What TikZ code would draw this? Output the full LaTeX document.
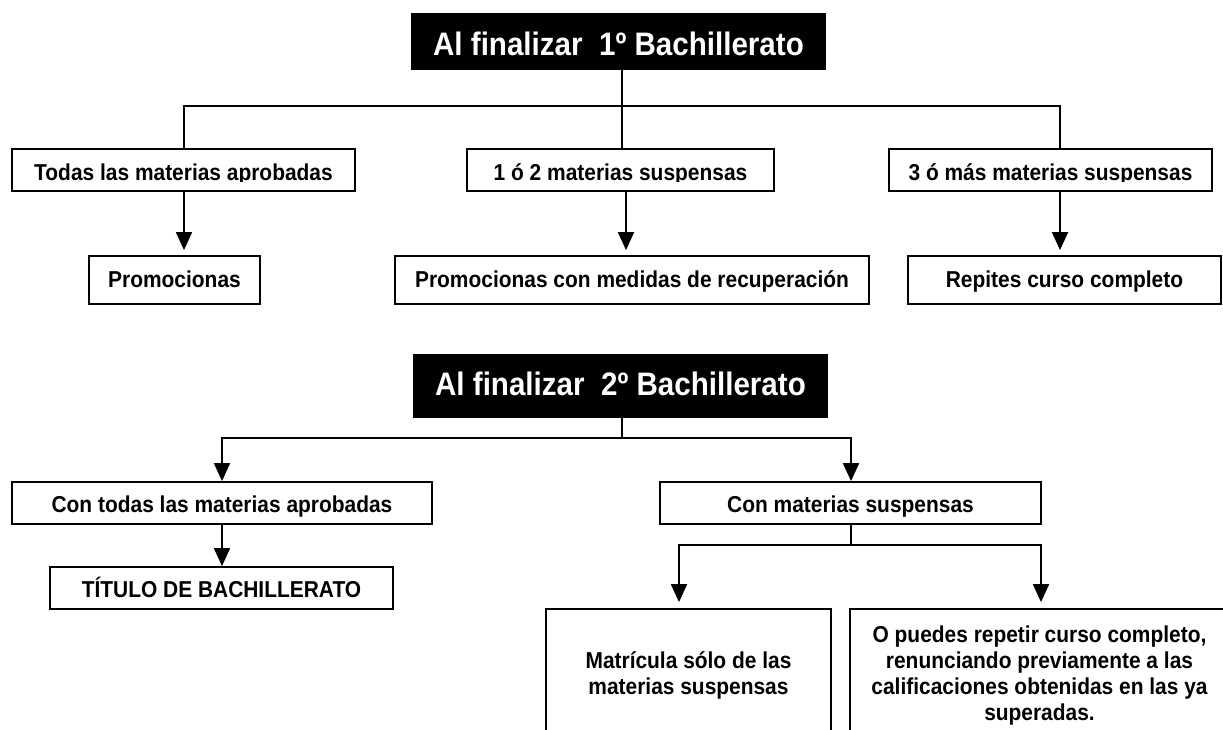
\documentclass[tikz,border=0pt]{standalone}
\usepackage{fontspec}
\setmainfont{Liberation Sans}[FakeStretch=0.91]
\usetikzlibrary{arrows.meta}
\begin{document}
\begin{tikzpicture}[x=1pt,y=-1pt,
  box/.style={draw=black, line width=1.8pt, inner sep=0pt, fill=white},
  ttl/.style={fill=black, inner sep=0pt},
  lab/.style={font=\fontsize{23}{26}\selectfont\bfseries, inner sep=0pt, anchor=base, text=black},
  tlab/.style={font=\fontsize{32.5}{36}\selectfont\bfseries, inner sep=0pt, anchor=base, text=white},
  conn/.style={line width=1.8pt},
  arr/.style={line width=1.8pt, -{Triangle[width=16pt,length=18pt]}},
]
\useasboundingbox[fill=white] (0,0) rectangle (1223,729);

% ---------- 1º Bachillerato ----------
\node[ttl, minimum width=415pt, minimum height=57pt] (t1) at (618.5,41.5) {};
\node[tlab] (t1l) at (618.5,55) {Al finalizar\ \ 1º Bachillerato};

\node[box, minimum width=343pt, minimum height=42pt] (A) at (183.5,170) {};
\node[box, minimum width=307pt, minimum height=42pt] (B) at (620.5,170) {};
\node[box, minimum width=323pt, minimum height=42pt] (C) at (1050.5,170) {};
\begin{scope}
  \clip (0,140) rectangle (1223,181);
  \node[lab] (Al) at (A.center |- 0,180) {Todas las materias aprobadas};
  \node[lab] (Bl) at (B.center |- 0,180) {1 ó 2 materias suspensas};
  \node[lab] (Cl) at (C.center |- 0,180) {3 ó más materias suspensas};
\end{scope}

\node[box, minimum width=171pt, minimum height=48pt] (A2) at (174.5,280) {};
\node[box, minimum width=474pt, minimum height=48pt] (B2) at (632,280) {};
\node[box, minimum width=313pt, minimum height=48pt] (C2) at (1064.5,280) {};
\node[lab] (A2l) at (A2.center |- 0,287) {Promocionas};
\node[lab] (B2l) at (B2.center |- 0,287) {Promocionas con medidas de recuperación};
\node[lab] (C2l) at (C2.center |- 0,287) {Repites curso completo};

\coordinate (hl) at (184,106);
\coordinate (hm) at (622,106);
\coordinate (hr) at (1060,106);
\coordinate (xb) at (626,0);
\draw[conn] (t1.south -| hm) -- (B.north -| hm);
\draw[conn] (A.north -| hl) -- (hl) -- (hr) -- (C.north -| hr);
\draw[arr, shorten >=5pt] (A.south -| hl) -- (A2.north -| hl);
\draw[arr, shorten >=5pt] (B.south -| xb) -- (B2.north -| xb);
\draw[arr, shorten >=5pt] (C.south -| hr) -- (C2.north -| hr);

% ---------- 2º Bachillerato ----------
\node[ttl, minimum width=415pt, minimum height=64pt] (t2) at (620.5,386) {};
\node[tlab] (t2l) at (620.5,395) {Al finalizar\ \ 2º Bachillerato};

\node[box, minimum width=420pt, minimum height=42pt] (D) at (222,503) {};
\node[box, minimum width=343pt, minimum height=42pt] (E) at (221.5,588) {};
\node[box, minimum width=381pt, minimum height=42pt] (F) at (850.5,503) {};
\node[box, minimum width=285pt, minimum height=128pt] (G) at (688.5,673) {};
\node[box, minimum width=379pt, minimum height=128pt] (H) at (1039.5,673) {};

\node[lab] (Dl) at (D.center |- 0,512) {Con todas las materias aprobadas};
\node[lab] (El) at (E.center |- 0,597) {TÍTULO DE BACHILLERATO};
\node[lab] (Fl) at (F.center |- 0,512) {Con materias suspensas};
\node[lab] (Gl1) at (G.center |- 0,668) {Matrícula sólo de las};
\node[lab] (Gl2) at (G.center |- 0,694) {materias suspensas};
\node[lab] (Hl1) at (H.center |- 0,642) {O puedes repetir curso completo,};
\node[lab] (Hl2) at (H.center |- 0,668) {renunciando previamente a las};
\node[lab] (Hl3) at (H.center |- 0,694) {calificaciones obtenidas en las ya};
\node[lab] (Hl4) at (H.center |- 0,720) {superadas.};

\coordinate (bl) at (222,438);
\coordinate (bm) at (622,438);
\coordinate (br) at (851,438);
\coordinate (fm) at (851,545);
\coordinate (gl) at (679,545);
\coordinate (gr) at (1041,545);
\draw[conn] (t2.south -| bm) -- (bm);
\draw[arr] (bm) -| (D.north -| bl);
\draw[arr] (bm) -| (F.north -| br);
\draw[arr] (D.south -| bl) -- (E.north -| bl);
\draw[conn] (F.south -| fm) -- (fm);
\draw[arr, shorten >=6pt] (fm) -| (G.north -| gl);
\draw[arr, shorten >=6pt] (fm) -| (H.north -| gr);
\end{tikzpicture}
\end{document}
